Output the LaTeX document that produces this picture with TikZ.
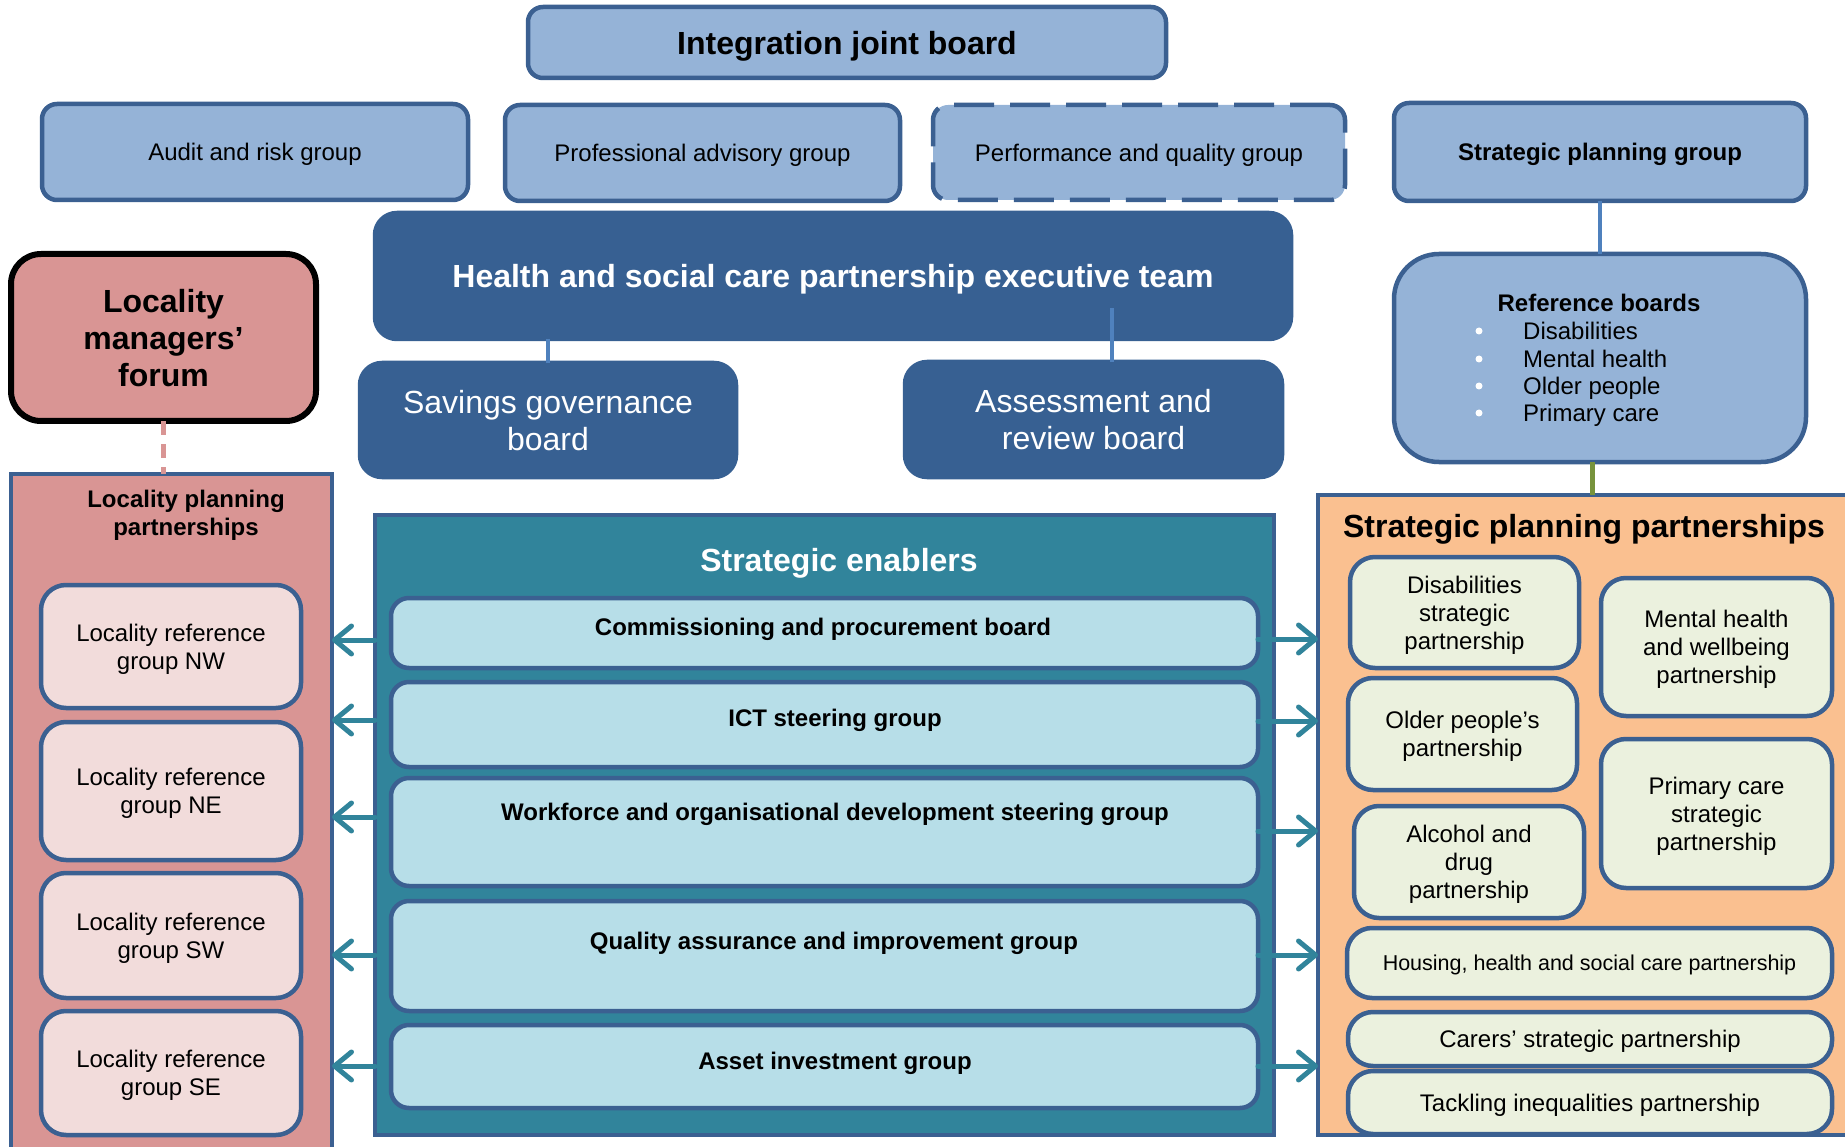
\documentclass[tikz,border=0pt]{standalone}
\usepackage{fontspec}
\setmainfont{Liberation Sans}
\usetikzlibrary{arrows.meta,calc}

\definecolor{lightblue}{HTML}{95B3D7}
\definecolor{edge}{HTML}{3B6091}
\definecolor{navy}{HTML}{376092}
\definecolor{linkblue}{HTML}{4F81BD}
\definecolor{rose}{HTML}{D99594}
\definecolor{palerose}{HTML}{F2DCDB}
\definecolor{enabteal}{HTML}{31849B}
\definecolor{paleteal}{HTML}{B7DEE8}
\definecolor{peach}{HTML}{FAC090}
\definecolor{palegreen}{HTML}{EBF1DE}
\definecolor{leaf}{HTML}{77933C}

\begin{document}
\begin{tikzpicture}[x=1pt,y=-1pt,
  every node/.append style={text depth=0pt},
  f21/.style={font=\fontsize{21.5}{26}\selectfont},
  f24/.style={font=\fontsize{24}{28}\selectfont},
  f24b/.style={font=\fontsize{24}{28}\selectfont\bfseries},
  f32/.style={font=\fontsize{32}{37}\selectfont},
  f32b/.style={font=\fontsize{32}{37}\selectfont\bfseries},
  bx/.style={draw=edge, line width=4.5pt, rounded corners=15pt, inner sep=0pt,
             outer sep=0pt, anchor=north west, align=center},
  topbox/.style={bx, fill=lightblue},
  darkbox/.style={bx, fill=navy, draw=navy, text=white, rounded corners=22pt},
  lref/.style={bx, fill=palerose, rounded corners=25pt, f24, minimum width=260pt},
  einner/.style={bx, fill=paleteal, rounded corners=18pt, minimum width=867pt},
  pbox/.style={bx, fill=palegreen, rounded corners=25pt, f24},
  item/.style={f24, anchor=west, inner sep=0pt, text height=17pt, text depth=0pt},
  dot/.style={circle, fill=white, inner sep=0pt, minimum size=7pt},
  conn/.style={draw=linkblue, line width=4.5pt},
  arr/.style={draw=enabteal, line width=5pt, line cap=round,
              -{Straight Barb[length=17pt,width=28pt,round]}}
]
\useasboundingbox (0,0) rectangle (1845,1147);

% board and its committees
\node[topbox, f32b, minimum width=638pt, minimum height=71pt] (ijb) at (528,7) {Integration joint board};
\node[topbox, f24, minimum width=426pt, minimum height=96pt] (audit) at (42,104) {Audit and risk group};
\node[topbox, f24, minimum width=395pt, minimum height=96pt] (prof) at (505,105) {Professional advisory group};
\node[topbox, f24, minimum width=412pt, minimum height=95pt, dash pattern=on 40pt off 16pt] (perf) at (933,105) {Performance and quality group};
\node[topbox, f24b, minimum width=412pt, minimum height=98pt] (spg) at (1394,103) {Strategic planning group};

% executive team and its boards
\node[darkbox, f32b, minimum width=916pt, minimum height=126pt] (exec) at (375,213) {Health and social care partnership executive team};
\node[darkbox, f32, minimum width=376pt, minimum height=114pt] (save) at (360,363) {Savings governance\\board};
\node[darkbox, f32, minimum width=377pt, minimum height=115pt] (assess) at (905,362) {Assessment and\\review board};

% locality managers' forum
\node[bx, draw=black, line width=6pt, fill=rose, rounded corners=30pt, f32b,
      minimum width=305pt, minimum height=167pt] (forum) at (11,254) {Locality\\managers’\\forum};

% reference boards
\node[topbox, rounded corners=45pt, minimum width=412pt, minimum height=208pt] (refb) at (1394,254) {};
\node[f24b] (refT) at (1599,303) {Reference boards};
\node[dot] (d1) at (1479,331) {};
\node[dot] (d2) at (1479,359) {};
\node[dot] (d3) at (1479,386) {};
\node[dot] (d4) at (1479,413) {};
\node[item] (r1) at (1523,331) {Disabilities};
\node[item] (r2) at (1523,359) {Mental health};
\node[item] (r3) at (1523,386) {Older people};
\node[item] (r4) at (1523,413) {Primary care};

% locality planning partnerships
\node[bx, fill=rose, sharp corners, minimum width=321pt, minimum height=675pt] (lpp) at (11,474) {};
\node[f24b, align=center] (lppT) at (186,513) {Locality planning\\partnerships};
\node[lref, minimum height=123pt] (nw) at (41,585) {Locality reference\\group NW};
\node[lref, minimum height=138pt] (ne) at (41,722) {Locality reference\\group NE};
\node[lref, minimum height=125pt] (sw) at (41,873) {Locality reference\\group SW};
\node[lref, minimum height=124pt] (se) at (41,1011) {Locality reference\\group SE};

% strategic enablers
\node[bx, fill=enabteal, sharp corners, minimum width=899pt, minimum height=620pt] (enab) at (375,515) {};
\node[f32b, text=white] (enabT) at (839,560) {Strategic enablers};
\node[einner, minimum height=70pt] (comm) at (391,598) {};
\node[einner, minimum height=85pt] (ict) at (391,682) {};
\node[einner, minimum height=108pt] (work) at (391,778) {};
\node[einner, minimum height=110pt] (qual) at (391,901) {};
\node[einner, minimum height=83pt] (asset) at (391,1025) {};
\node[f24b] (commT) at (823,627) {Commissioning and procurement board};
\node[f24b] (ictT) at (835,718) {ICT steering group};
\node[f24b] (workT) at (835,812) {Workforce and organisational development steering group};
\node[f24b] (qualT) at (834,941) {Quality assurance and improvement group};
\node[f24b] (assetT) at (835,1061) {Asset investment group};

% strategic planning partnerships
\node[bx, fill=peach, sharp corners, minimum width=540pt, minimum height=640pt] (spp) at (1318,495) {};
\node[f32b] (sppT) at (1584,526) {Strategic planning partnerships};
\node[pbox, minimum width=229pt, minimum height=111pt] (disab) at (1350,557) {Disabilities\\strategic\\partnership};
\node[pbox, minimum width=231pt, minimum height=138pt] (mental) at (1601,578) {Mental health\\and wellbeing\\partnership};
\node[pbox, minimum width=229pt, minimum height=112pt] (older) at (1348,678) {Older people’s\\partnership};
\node[pbox, minimum width=231pt, minimum height=149pt] (primary) at (1601,739) {Primary care\\strategic\\partnership};
\node[pbox, minimum width=230pt, minimum height=112pt] (alcohol) at (1354,806) {Alcohol and\\drug\\partnership};
\node[pbox, f21, minimum width=485pt, minimum height=70pt] (housing) at (1347,928) {Housing, health and social care partnership};
\node[pbox, minimum width=484pt, minimum height=54pt] (carers) at (1348,1012) {Carers’ strategic partnership};
\node[pbox, minimum width=484pt, minimum height=63pt] (tackle) at (1348,1071) {Tackling inequalities partnership};

% connectors
\draw[conn] (save.north |- exec.south) -- (save.north);
\coordinate (ea) at (1112,308);
\draw[conn] (ea) -- (ea |- assess.north);
\draw[conn] (spg.south) -- (refb.north);
\draw[draw=leaf, line width=5pt] ($(refb.south)+(-8,0)$) -- ($(refb.south |- spp.north)+(-8,0)$);
\draw[draw=rose, line width=5pt, dash pattern=on 14pt off 9pt] (forum.south) -- (forum.south |- lpp.north);

% arrows from the enablers to the partnerships on either side
\foreach \y [count=\i] in {640,720,817,955,1066} {
  \coordinate (L\i) at (0,\y);
  \draw[arr] (enab.west |- L\i) -- (lpp.east |- L\i);
}
\foreach \y/\b [count=\i] in {639/comm,721/ict,831/work,955/qual,1066/asset} {
  \coordinate (R\i) at (0,\y);
  \draw[arr] (\b.east |- R\i) -- (spp.west |- R\i);
}
\end{tikzpicture}
\end{document}
